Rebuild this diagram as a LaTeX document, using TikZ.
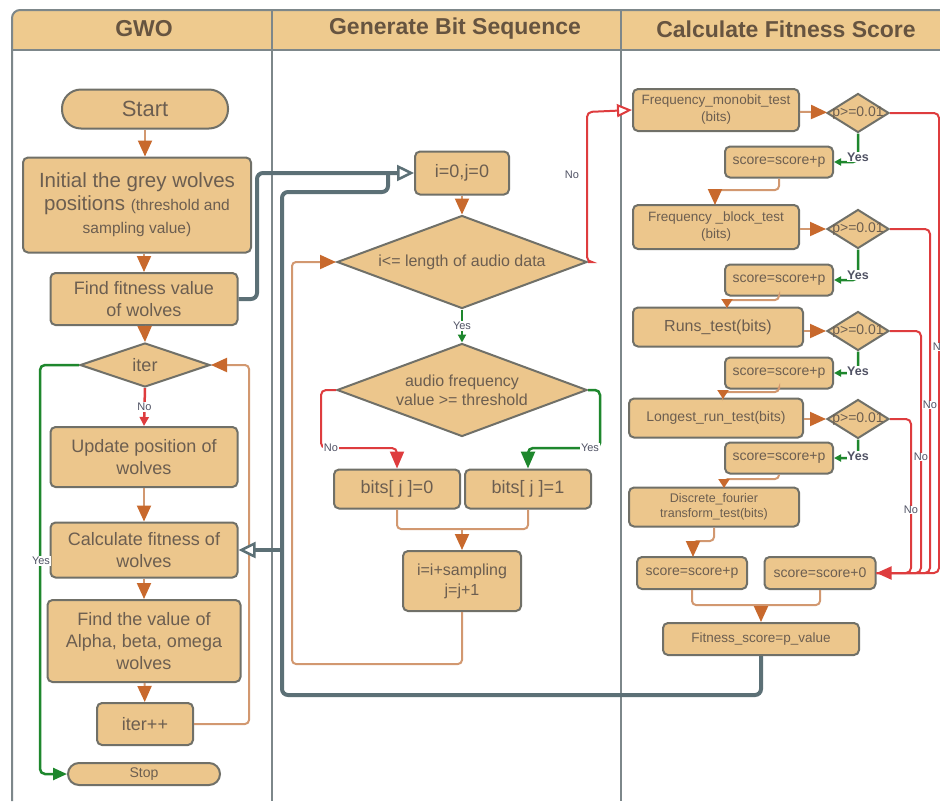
\documentclass[tikz,border=0pt]{standalone}
\usepackage{fontspec}
\setmainfont{Liberation Sans}
\usetikzlibrary{arrows.meta,shapes.geometric,calc}
\definecolor{boxc}{RGB}{236,198,140}
\definecolor{headc}{RGB}{238,202,142}
\definecolor{bordc}{RGB}{112,112,104}
\definecolor{txtc}{RGB}{108,94,80}
\definecolor{htxt}{RGB}{102,84,64}
\definecolor{linec}{RGB}{210,152,112}
\definecolor{tipc}{RGB}{200,105,45}
\definecolor{tealc}{RGB}{92,112,118}
\definecolor{redc}{RGB}{222,60,62}
\definecolor{grnc}{RGB}{30,135,45}
\definecolor{framec}{RGB}{125,135,138}
\definecolor{lblc}{RGB}{80,82,100}
\newcommand{\fs}[2]{\fontsize{#1}{#2}\selectfont}
\tikzset{
  box/.style={draw=bordc, fill=boxc, line width=2pt, rounded corners=5pt, text=txtc, align=center, inner sep=0pt},
  dia/.style={draw=bordc, fill=boxc, line width=2pt, diamond, text=txtc, align=center, inner sep=0pt},
  frm/.style={draw=framec, line width=2pt},
  htext/.style={text=htxt, font=\fs{23}{26}\bfseries},
  oline/.style={draw=linec, line width=2pt, rounded corners=4pt},
  oarr/.style={oline, -{Triangle[length=16pt,width=14pt,color=tipc]}},
  tline/.style={draw=tealc, line width=4pt, rounded corners=6pt},
  tarr/.style={tline, -{Triangle[open,length=17pt,width=16pt,fill=white,line width=2.5pt]}},
  rline/.style={draw=redc, line width=2pt, rounded corners=5pt},
  gline/.style={draw=grnc, line width=2.5pt, rounded corners=5pt},
  lbl/.style={font=\fs{11}{12}, text=lblc, fill=white, inner sep=1pt},
  ylbl/.style={font=\fs{12.5}{13}\bfseries, text=lblc, fill=white, inner sep=0.5pt},
  plbl/.style={font=\fs{14}{15}, text=txtc}
}
\begin{document}
\begin{tikzpicture}[x=1pt,y=-1pt]
\useasboundingbox (0,0) rectangle (940,801);
\fill[white] (0,0) rectangle (940,801);
% header and frame
\fill[headc, rounded corners=8pt] (12,10) rectangle (960,50);
\fill[headc] (12,30) rectangle (960,50);
\draw[frm, rounded corners=8pt] (12,801) -- (12,10) -- (960,10);
\draw[frm] (12,50) -- (960,50);
\draw[frm] (272,10) -- (272,801);
\draw[frm] (621,10) -- (621,801);
\node[htext] (h1) at (144,29) {GWO};
\node[htext] (h2) at (455,29) {Generate Bit Sequence};
\node[htext] (h3) at (786,29) {Calculate Fitness Score};

% ---------- GWO column ----------
\node[box, minimum width=166pt, minimum height=39pt, rounded corners=19pt, font=\fs{22}{26}] (start) at (145,109) {Start};
\node[box, minimum width=228pt, minimum height=95pt, font=\fs{20.5}{23}] (init) at (137,205)
  {Initial the grey wolves\\positions {\fs{15.5}{21}(threshold and}\\{\fs{15.5}{21}sampling value)}};
\node[box, minimum width=187pt, minimum height=52pt, font=\fs{18}{22}] (find) at (144,299) {Find fitness value\\of wolves};
\node[dia, minimum width=130pt, minimum height=44pt, shape aspect=3, font=\fs{18}{20}] (iter) at (145,365) {iter};
\node[box, minimum width=187pt, minimum height=60pt, font=\fs{18}{22}] (upd) at (144,457) {Update position of\\wolves};
\node[box, minimum width=187pt, minimum height=55pt, font=\fs{18}{22}] (calc) at (144,550) {Calculate fitness of\\wolves};
\node[box, minimum width=193pt, minimum height=82pt, font=\fs{18}{22}] (val) at (144,641) {Find the value of\\Alpha, beta, omega\\wolves};
\node[box, minimum width=96pt, minimum height=42pt, font=\fs{18}{20}] (itpp) at (145,724) {iter++};
\node[box, minimum width=152pt, minimum height=22pt, rounded corners=11pt, font=\fs{14}{15}] (stop) at (144,774) {Stop};

\draw[oarr] (start) -- (start |- init.north);
\draw[oarr] (find.north |- init.south) -- (find.north);
\draw[oarr] (find) -- (iter.north);
\draw[draw=redc, line width=2.5pt, -{Triangle[length=9pt,width=9pt]}] (iter.south) -- (upd.north)
  node[midway, font=\fs{11}{12}, text=lblc, fill=white, inner sep=1pt] (no1) {No};
\draw[oarr] (upd) -- (calc);
\draw[oarr] (calc) -- (val);
\draw[oarr] (val) -- (itpp);
\draw[oarr] (itpp.east) -- (249,724) -- (249,365) -- (iter.east);
\draw[gline, -{Triangle[length=14pt,width=12pt]}] (iter.west) -- (40,365) -- (40,774) -- (stop.west);
\node[lbl, fill=white] (yes1) at (41,561) {Yes};

% ---------- Generate Bit Sequence ----------
\node[box, minimum width=94pt, minimum height=43pt, font=\fs{18}{20}] (i0) at (462,173) {i=0,j=0};
\node[dia, minimum width=250pt, minimum height=93pt, shape aspect=2.7, font=\fs{16}{18}] (d1) at (462,262) {i<= length of audio data};
\node[dia, minimum width=250pt, minimum height=93pt, shape aspect=2.7, font=\fs{16}{19}] (d2) at (462,390) {audio frequency\\value >= threshold};
\node[box, minimum width=126pt, minimum height=39pt, font=\fs{18}{20}] (b0) at (397,489) {bits[ j ]=0};
\node[box, minimum width=126pt, minimum height=39pt, font=\fs{18}{20}] (b1) at (528,489) {bits[ j ]=1};
\node[box, minimum width=118pt, minimum height=60pt, font=\fs{16}{20}] (samp) at (462,581) {i=i+sampling\\j=j+1};

\draw[oarr] (i0) -- (d1.north);
\draw[draw=grnc, line width=2.5pt, -{Triangle[length=8pt,width=8pt]}] (d1.south) -- (d2.north)
  node[midway, lbl] (yes2) {Yes};
\draw[rline, -{Triangle[length=17pt,width=14pt]}] (d2.west) -- (321,390) -- (321,448) -- (397,448) -- (b0.north);
\node[lbl] (no2) at (331,448) {No};
\draw[gline, -{Triangle[length=17pt,width=14pt]}] (d2.east) -- (600,390) -- (600,448) -- (528,448) -- (b1.north);
\node[lbl] (yes3) at (590,448) {Yes};
\draw[oline] (b0.south) -- (397,529) -- (528,529) -- (b1.south);
\coordinate (m1) at (462,529);
\draw[oarr] (m1) -- (samp.north);
\draw[oarr] (samp.south) -- (462,664) -- (292,664) -- (292,262) -- (d1.west);

% teal connectors
\draw[tarr] (find.east) -- (257,299) -- (257,173) -- (i0.west);
\draw[tline] (761,655) -- (761,695) -- (282,695) -- (282,192) -- (388,192) -- (388,173);
\coordinate (jn) at (282,550);
\draw[tarr] (jn) -- (calc.east);

% ---------- Calculate Fitness Score ----------
\node[box, minimum width=166pt, minimum height=42pt, font=\fs{13.5}{17}] (mono) at (716,110) {Frequency\_monobit\_test\\(bits)};
\node[box, minimum width=166pt, minimum height=44pt, font=\fs{13.5}{17}] (blk) at (716,227) {Frequency \_block\_test\\(bits)};
\node[box, minimum width=170pt, minimum height=39pt, font=\fs{16}{18}] (runs) at (718,327) {Runs\_test(bits)};
\node[box, minimum width=174pt, minimum height=39pt, font=\fs{14}{16}] (lng) at (716,418) {Longest\_run\_test(bits)};
\node[box, minimum width=170pt, minimum height=39pt, font=\fs{12.5}{15}] (dft) at (714,507) {Discrete\_fourier\\transform\_test(bits)};
\node[box, minimum width=108pt, minimum height=31pt, font=\fs{14}{15}] (s1) at (779,162) {score=score+p};
\node[box, minimum width=108pt, minimum height=31pt, font=\fs{14}{15}] (s2) at (779,280) {score=score+p};
\node[box, minimum width=108pt, minimum height=31pt, font=\fs{14}{15}] (s3) at (779,373) {score=score+p};
\node[box, minimum width=108pt, minimum height=31pt, font=\fs{14}{15}] (s4) at (779,458) {score=score+p};
\node[box, minimum width=110pt, minimum height=32pt, font=\fs{14}{15}] (s5) at (692,573) {score=score+p};
\node[box, minimum width=111pt, minimum height=32pt, font=\fs{14}{15}] (s0) at (820,573) {score=score+0};
\node[box, minimum width=196pt, minimum height=32pt, font=\fs{13.5}{15}] (fit) at (761,639) {Fitness\_score=p\_value};
\node[dia, minimum width=62pt, minimum height=39pt, label={[plbl]center:p>=0.01}] (dd1) at (858,113) {};
\node[dia, minimum width=62pt, minimum height=39pt, label={[plbl]center:p>=0.01}] (dd2) at (858,229) {};
\node[dia, minimum width=62pt, minimum height=39pt, label={[plbl]center:p>=0.01}] (dd3) at (858,331) {};
\node[dia, minimum width=62pt, minimum height=39pt, label={[plbl]center:p>=0.01}] (dd4) at (858,419) {};

\draw[rline, -{Triangle[open,length=15pt,width=13pt,fill=white]}] (d1.east) -- (587,262) -- (587,112) -- (mono.west);
\node[font=\fs{11}{12}, text=lblc] (no3) at (572,175) {No};

\draw[oarr] (mono) -- (dd1);
\draw[oarr] (blk.east |- dd2) -- (dd2);
\draw[oarr] (runs.east |- dd3) -- (dd3);
\draw[oarr] (lng.east |- dd4) -- (dd4);

\draw[gline, -{Triangle[length=7pt,width=7pt]}] (dd1.south) -- (858,162) -- (s1.east);
\node[ylbl] (y1) at (858,157) {Yes};
\draw[gline, -{Triangle[length=7pt,width=7pt]}] (dd2.south) -- (858,280) -- (s2.east);
\node[ylbl] (y2) at (858,275) {Yes};
\draw[gline, -{Triangle[length=7pt,width=7pt]}] (dd3.south) -- (858,373) -- (s3.east);
\node[ylbl] (y3) at (858,371) {Yes};
\draw[gline, -{Triangle[length=7pt,width=7pt]}] (dd4.south) -- (858,458) -- (s4.east);
\node[ylbl] (y4) at (858,456) {Yes};

\draw[oarr] (s1.south) -- (779,190) -- (715,190) -- (715,205);
\draw[oline, -{Triangle[length=9pt,width=11pt,color=tipc]}] (s2.south) -- (779,300) -- (727,300) -- (727,308);
\draw[oline, -{Triangle[length=9pt,width=11pt,color=tipc]}] (s3.south) -- (779,392) -- (723,392) -- (723,399);
\draw[oline, -{Triangle[length=9pt,width=11pt,color=tipc]}] (s4.south) -- (779,479) -- (724,479) -- (724,488);
\draw[oarr] (dft.south) -- (714,541) -- (693,541) -- (693,557);

\draw[rline] (dd1.east) -- (939,113) -- (939,573) -- (s0.east);
\draw[rline] (dd2.east) -- (930,229) -- (930,573) -- (s0.east);
\draw[rline] (dd3.east) -- (921,331) -- (921,573) -- (s0.east);
\draw[rline, -{Triangle[length=15pt,width=13pt]}] (dd4.east) -- (911,419) -- (911,573) -- (s0.east);
\node[lbl, inner sep=0.5pt] (n4) at (940,347) {No};
\node[lbl, inner sep=0.5pt] (n5) at (930,405) {No};
\node[lbl, inner sep=0.5pt] (n6) at (921,457) {No};
\node[lbl, inner sep=0.5pt] (n7) at (911,510) {No};

\draw[oline] (s5.south) -- (692,605) -- (820,605) -- (s0.south);
\coordinate (m2) at (761,605);
\draw[oarr] (m2) -- (fit.north);
\end{tikzpicture}
\end{document}
